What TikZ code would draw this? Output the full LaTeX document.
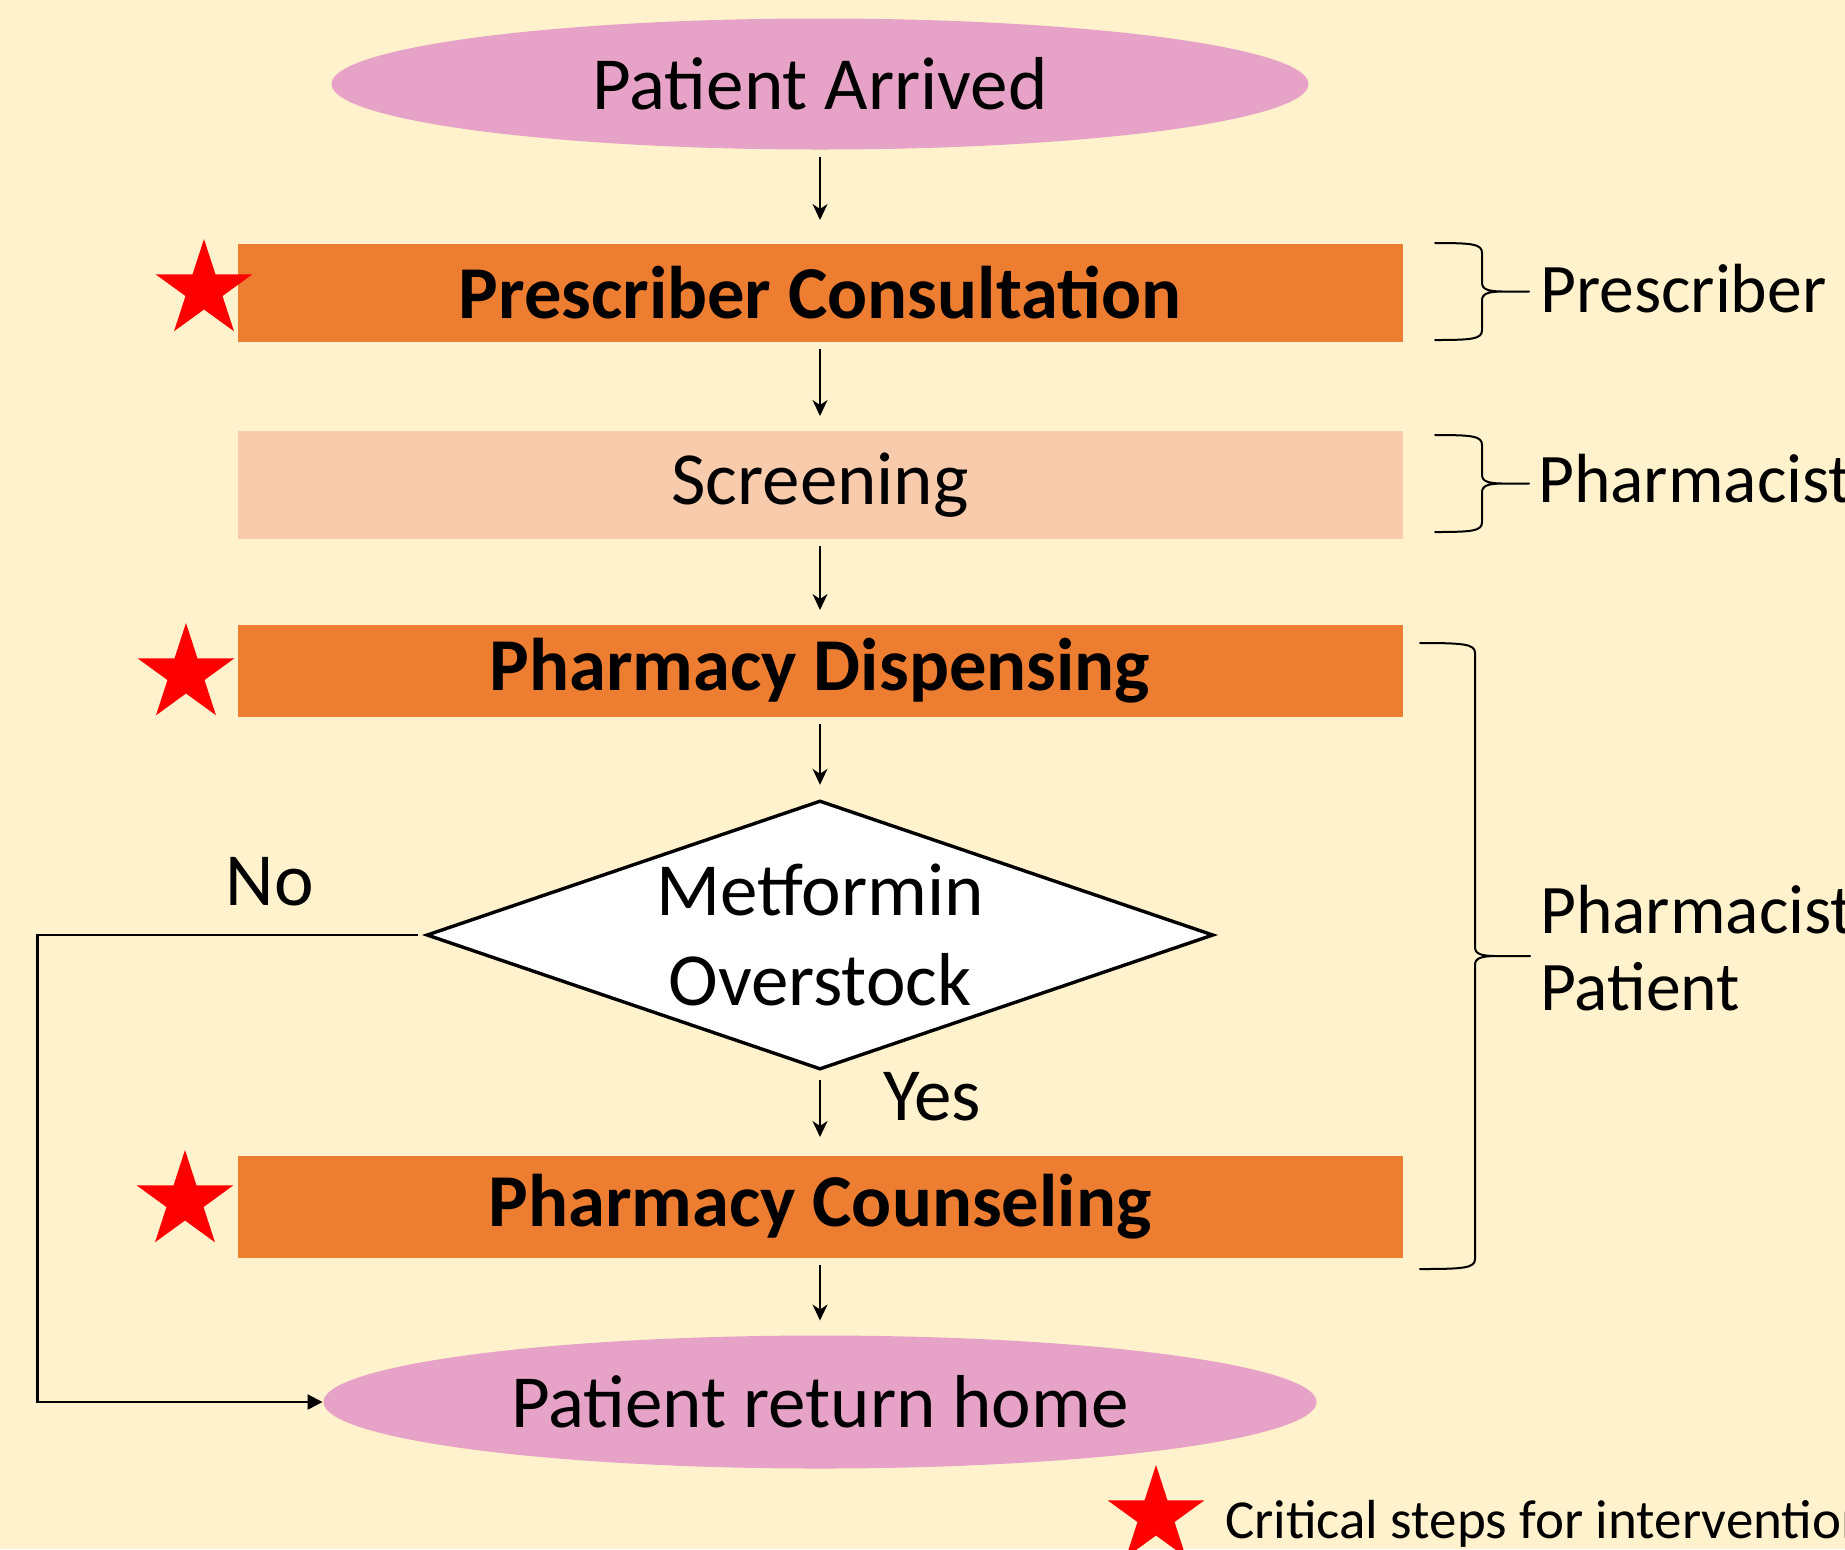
\documentclass[tikz,border=0pt]{standalone}
\usepackage{fontspec}
\setmainfont{Carlito}
\usetikzlibrary{arrows.meta,positioning,shapes.geometric}

\definecolor{paper}{HTML}{FFF2CC}
\definecolor{stepfill}{HTML}{ED7D31}
\definecolor{screenfill}{HTML}{F8CBAD}
\definecolor{endfill}{HTML}{E6A3C7}

% right-hand curly brace: left x, top y, bottom y, half depth
\newcommand{\sidebrace}[4]{%
  \pgfmathsetmacro{\bmid}{(#2+#3)/2}
  \draw[bracepen] (#1,#2) .. controls (#1+0.8*#4,#2) and (#1+#4,#2+1) .. (#1+#4,#2+10)
    -- (#1+#4,\bmid-9) .. controls (#1+#4,\bmid-2) and (#1+#4+6,\bmid) .. (#1+#4+22,\bmid)
    -- (#1+2*#4,\bmid)
    (#1+#4+22,\bmid) .. controls (#1+#4+6,\bmid) and (#1+#4,\bmid+2) .. (#1+#4,\bmid+9)
    -- (#1+#4,#3-10) .. controls (#1+#4,#3-1) and (#1+0.8*#4,#3) .. (#1,#3);
}

\begin{document}
\begin{tikzpicture}[x=0.5pt,y=-0.5pt,on grid,line width=1pt,
  >={Stealth[length=8pt,width=7.5pt,inset=2.5pt]}]
\tikzstyle{terminal} = [ellipse,fill=endfill,inner sep=0pt,font=\fontsize{37.5}{45}\selectfont]
\tikzstyle{critical} = [rectangle,fill=stepfill,minimum width=582.5pt,font=\fontsize{37.3}{45}\selectfont\bfseries]
\tikzstyle{plain} = [rectangle,fill=screenfill,minimum width=582.5pt,font=\fontsize{37.5}{45}\selectfont]
\tikzstyle{decision} = [diamond,draw=black,line width=1.7pt,fill=white,aspect=2.93,minimum width=393.5pt,minimum height=134.5pt,inner sep=0pt,align=center,font=\fontsize{37.5}{45}\selectfont]
\tikzstyle{flag} = [star,star points=5,star point ratio=2.618,fill=red,minimum size=51pt,inner sep=0pt]
\tikzstyle{role} = [anchor=base west,inner sep=0pt,align=left,font=\fontsize{34.8}{38.5}\selectfont]
\tikzstyle{tag} = [inner sep=0pt,font=\fontsize{37.5}{45}\selectfont]
\tikzstyle{bracepen} = [line width=1pt,line cap=round]

    \clip (0,0) rectangle (1845,1549);
    \fill[paper] (0,0) rectangle (1845,1549);

    \node[terminal,minimum width=488.5pt,minimum height=65.5pt] (arrived) at (820,84) {Patient Arrived};
    \node[critical,minimum height=49pt] (consult) [below=104.5pt of arrived] {Prescriber Consultation};
    \node[plain,minimum height=54pt] (screen) [below=96pt of consult] {Screening};
    \node[critical,minimum height=46pt] (dispense) [below=93pt of screen] {Pharmacy Dispensing};
    \node[decision] (decide) [below=132pt of dispense] {Metformin\\Overstock};
    \node[critical,minimum height=51pt] (counsel) [below=136pt of decide] {Pharmacy Counseling};
    \node[terminal,minimum width=496.5pt,minimum height=66.5pt] (home) [below=97.5pt of counsel] {Patient return home};

    % stars on the critical steps
    \node[flag] (flagA) at (204,290) {};
    \node[flag] (flagB) at (186,674) {};
    \node[flag] (flagC) at (185,1201) {};

    \tikzset{flow/.style={->,shorten <=3pt,shorten >=7pt}}
    \draw (arrived) edge [flow,shorten >=11.5pt] (consult);
    \draw (consult) edge [flow] (screen);
    \draw (screen) edge [flow] (dispense);
    \draw (dispense) edge [flow] (decide);
    \draw (decide) edge [flow,shorten <=4.5pt,shorten >=9pt] node[tag,right=31pt,pos=0.3] {Yes} (counsel);
    \draw (counsel) edge [flow] (home);

    \coordinate[left=193.75pt of decide.west] (noturn);
    \draw[line width=1.2pt,shorten <=3.5pt,-{Triangle[length=7.5pt,width=7.5pt]}]
      (decide.west) -- node[tag,above=14pt,pos=0.4] {No} (noturn) |- (home.west);

    % who is responsible
    \sidebrace{1435}{243}{340}{47}
    \sidebrace{1435}{435}{532}{47}
    \sidebrace{1420}{643}{1269}{55}
    \node[role] (rolepres) at (1539,312) {Prescriber};
    \node[role] (rolepharm) at (1537,502) {Pharmacist};
    \node[role] (roleshared) at (1539,1010) {Pharmacist/\\Patient};

    % legend
    \node[anchor=base west,inner sep=0pt,font=\fontsize{27.5}{33}\selectfont] (keytext) at (1224,1538) {Critical steps for intervention};
    \node[flag] (flagkey) at (1156,1516) {};
\end{tikzpicture}
\end{document}
